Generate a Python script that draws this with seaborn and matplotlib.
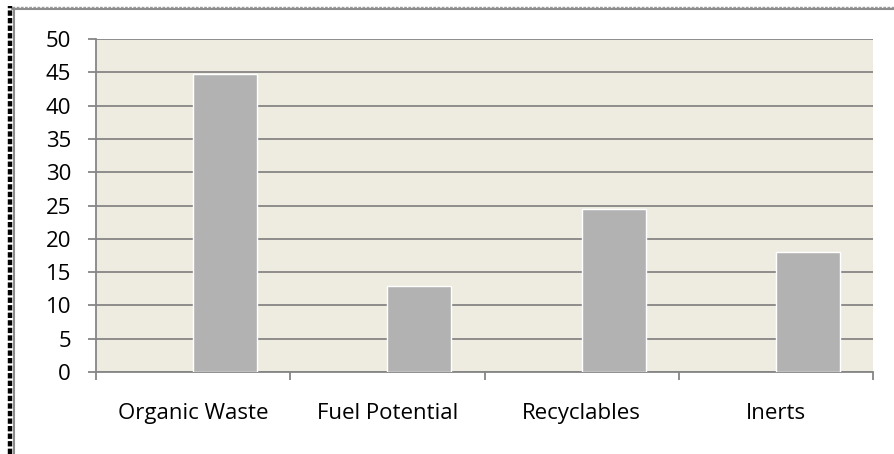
import matplotlib.pyplot as plt
import seaborn as sns
import pandas as pd
from matplotlib.lines import Line2D

categories = ['Organic Waste', 'Fuel Potential', 'Recyclables', 'Inerts']
values = [44.8, 12.9, 24.5, 18.0]
yticks = [0, 5, 10, 15, 20, 25, 30, 35, 40, 45, 50]

# Excel-style chart: an empty first series shifts the real bars right of centre
df = pd.DataFrame({
    'category': categories * 2,
    'series': ['blank'] * 4 + ['value'] * 4,
    'value': [float('nan')] * 4 + values,
})

sns.set_style('white')
plt.rcParams['font.family'] = ['Open Sans', 'DejaVu Sans']

fig = plt.figure(figsize=(8.94, 4.54), dpi=100)
ax = fig.add_axes([96 / 894, 1 - 372 / 454, 777 / 894, 333 / 454])
ax.set_facecolor('#EEECE1')

sns.barplot(data=df, x='category', y='value', hue='series',
            palette=['#B2B2B2', '#B2B2B2'], width=0.66, dodge=True,
            saturation=1, ax=ax, zorder=3, legend=False)

ax.set_ylim(0, 50)
ax.set_xlim(-0.5, 3.5)
ax.set_yticks(yticks)
ax.yaxis.grid(True, color='#868686', linewidth=1.3, zorder=0)
ax.set_axisbelow(True)
ax.set_xlabel('')
ax.set_ylabel('')

for s in ['top', 'right']:
    ax.spines[s].set_visible(False)
for s in ['left', 'bottom']:
    ax.spines[s].set_color('#868686')
    ax.spines[s].set_linewidth(1.3)

ax.set_xticks([-0.5, 0.5, 1.5, 2.5, 3.5], minor=False)
ax.set_xticklabels([''] * 5)
ax.set_xticks(range(len(categories)), minor=True)
ax.set_xticklabels(categories, minor=True)
ax.tick_params(axis='x', which='major', length=6, color='#868686', width=1.3, direction='out', bottom=True)
ax.tick_params(axis='x', which='minor', length=0, pad=22, labelsize=16, labelcolor='black')
ax.tick_params(axis='y', which='major', length=6, color='#868686', width=1.3, direction='out', left=True,
               labelsize=16, labelcolor='black', pad=12)

# chart border (top and left only, as in the screenshot)
W, H = 894, 454
fig.lines.append(Line2D([12 / W, 1], [1 - 8.5 / H, 1 - 8.5 / H], transform=fig.transFigure,
                        color='#8C8C8C', linewidth=1.5))
fig.lines.append(Line2D([12 / W, 1], [1 - 6.5 / H, 1 - 6.5 / H], transform=fig.transFigure,
                        color='#9A9A9A', linewidth=1, linestyle=(0, (2, 1))))
fig.lines.append(Line2D([14.5 / W, 14.5 / W], [0, 1 - 8.5 / H], transform=fig.transFigure,
                        color='#8C8C8C', linewidth=1.5))
fig.lines.append(Line2D([9.5 / W, 9.5 / W], [0, 1 - 6 / H], transform=fig.transFigure,
                        color='black', linewidth=3.2, linestyle=(0, (1.2, 0.5)), solid_capstyle='butt',
                        dash_capstyle='butt'))

fig.savefig('out.png', dpi=100)
